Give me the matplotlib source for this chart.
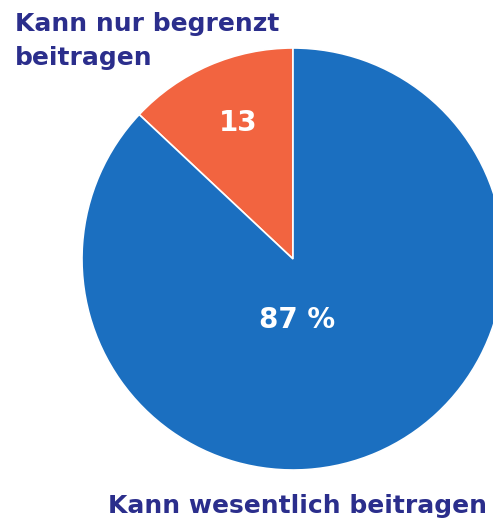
import matplotlib
matplotlib.use("Agg")
import matplotlib.pyplot as plt

# data
labels = ["Kann nur begrenzt\nbeitragen", "Kann wesentlich beitragen"]
values = [13, 87]
value_texts = ["13", "87 %"]
colors = ["#f26440", "#1b6fc0"]
text_color = "#2b2e8c"

W, H = 493, 519
fig = plt.figure(figsize=(W / 100, H / 100), dpi=100)
ax = fig.add_axes([0, 0, 1, 1])

cx, cy, r = 293, H - 259, 211
wedges, _ = ax.pie(values, colors=colors, startangle=90, counterclock=True,
                   center=(cx, cy), radius=r, frame=True,
                   wedgeprops=dict(edgecolor="white", linewidth=1.2))
ax.set_xlim(0, W)
ax.set_ylim(0, H)
ax.set_aspect("auto")
ax.axis("off")

# value labels inside slices
ax.text(238, H - 123, value_texts[0], color="white", fontsize=20,
        fontweight="bold", ha="center", va="center")
ax.text(297, H - 320, value_texts[1], color="white", fontsize=20,
        fontweight="bold", ha="center", va="center")

# category labels
ax.text(15, H - 12, labels[0], color=text_color, fontsize=18,
        fontweight="bold", ha="left", va="top", linespacing=1.55)
ax.text(487, H - 513, labels[1], color=text_color, fontsize=18,
        fontweight="bold", ha="right", va="baseline")

fig.savefig("out.png", dpi=100)
